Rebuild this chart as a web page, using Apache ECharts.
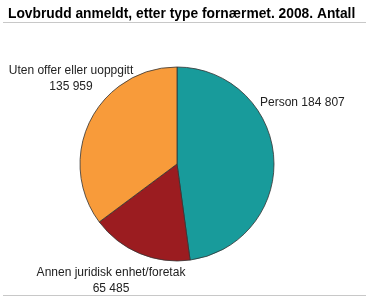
<!DOCTYPE html>
<html><head><meta charset="utf-8">
<script src="https://cdn.jsdelivr.net/npm/echarts@6/dist/echarts.min.js"></script>
<style>html,body{margin:0;padding:0;background:#fff}#c{width:369px;height:301px}</style>
</head><body><div id="c"></div>
<script>
const categories = ['Person', 'Annen juridisk enhet/foretak', 'Uten offer eller uoppgitt'];
const values = [184807, 65485, 135959];
const colors = ['#189b9b', '#9b1c20', '#f89b3a'];

function fmt(v){ return String(v).replace(/\B(?=(\d{3})+(?!\d))/g, ' '); }
const labelPos = [
  {x: 260, y: 103, align: 'left'},
  {x: 111, y: 281, align: 'center'},
  {x: 71, y: 79, align: 'center'}
];
const chart = echarts.init(document.getElementById('c'));
chart.setOption({
  animation: false,
  title: {text: 'Lovbrudd anmeldt, etter type fornærmet. 2008. Antall', left: 3, top: 2,
    textStyle: {fontFamily: 'Liberation Sans, Arial', fontSize: 13.8, fontWeight: 'bold', color: '#000'}},
  graphic: [
    {type: 'line', shape: {x1: 3, y1: 22.5, x2: 366, y2: 22.5}, style: {stroke: '#c8c8c8', lineWidth: 1}},
    {type: 'line', shape: {x1: 3, y1: 295.5, x2: 366, y2: 295.5}, style: {stroke: '#c8c8c8', lineWidth: 1}}
  ],
  series: [{
    type: 'pie',
    center: [177, 164],
    radius: 97,
    startAngle: 90,
    clockwise: true,
    data: categories.map((n, i) => ({name: n, value: values[i], itemStyle: {color: colors[i]}})),
    itemStyle: {borderColor: '#333', borderWidth: 0.8},
    label: {
      show: true, position: 'inside', overflow: 'none',
      fontFamily: 'Liberation Sans, Arial', fontSize: 12, color: '#222', lineHeight: 16,
      formatter: p => p.dataIndex === 0 ? p.name + ' ' + fmt(p.value) : p.name + '\n' + fmt(p.value)
    },
    labelLine: {show: false},
    labelLayout: p => ({x: labelPos[p.dataIndex].x, y: labelPos[p.dataIndex].y,
      align: labelPos[p.dataIndex].align, verticalAlign: 'middle'})
  }]
});
</script></body></html>
